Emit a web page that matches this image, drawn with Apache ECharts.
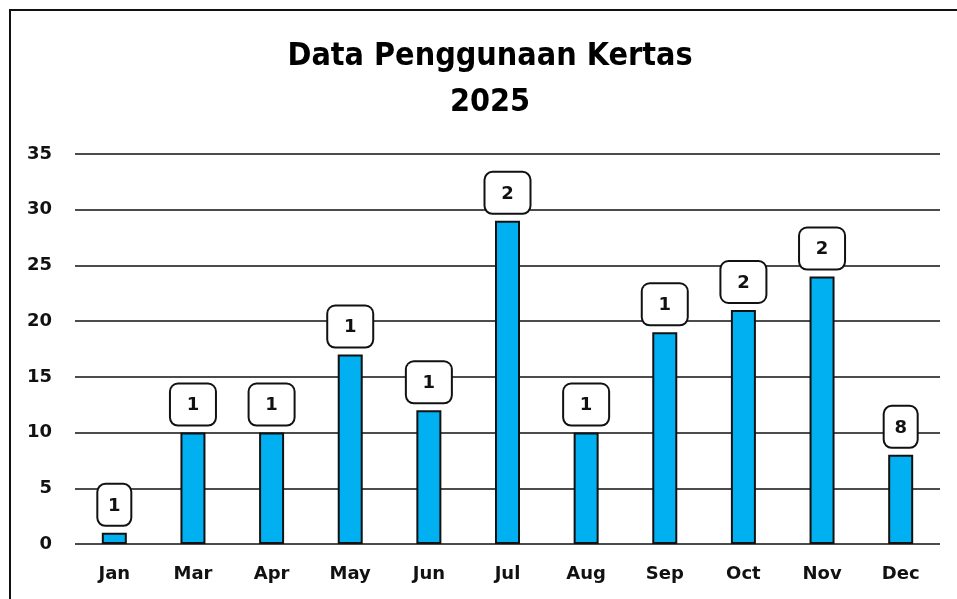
<!DOCTYPE html>
<html>
<head>
<meta charset="utf-8">
<script src="https://cdn.jsdelivr.net/npm/echarts@6/dist/echarts.min.js"></script>
<style>
  html, body { margin: 0; padding: 0; background: #fff; }
  #chart { width: 957px; height: 599px; }
</style>
</head>
<body>
<div id="chart"></div>
<script>
// Monthly paper usage, 2025
const months = ['Jan', 'Mar', 'Apr', 'May', 'Jun', 'Jul', 'Aug', 'Sep', 'Oct', 'Nov', 'Dec'];
const usage = [1, 10, 10, 17, 12, 29, 10, 19, 21, 24, 8];
const yTicks = [0, 5, 10, 15, 20, 25, 30, 35];

const FONT = '"DejaVu Sans", "Liberation Sans", Arial, sans-serif';
const TITLE_FONT = '"DejaVu Sans Condensed", "DejaVu Sans", sans-serif';

// Value callouts: narrow boxes that clip the value text to the box width
const barData = usage.map(v => {
  const pad = String(v).length > 1 ? 15 : 9;
  return { value: v, label: { padding: [11, pad, 9, pad] } };
});

const chart = echarts.init(document.getElementById('chart'), null, { renderer: 'canvas' });
chart.setOption({
  animation: false,
  backgroundColor: '#fff',
  graphic: [{
    type: 'rect',
    shape: { x: 10, y: 10, width: 980, height: 620 },
    style: { fill: 'none', stroke: '#111', lineWidth: 2 },
    silent: true
  }],
  title: {
    text: 'Data Penggunaan Kertas\n2025',
    left: 485,
    textAlign: 'center',
    top: 29,
    textStyle: {
      fontFamily: TITLE_FONT,
      fontWeight: 'bold',
      fontSize: 32,
      lineHeight: 46,
      color: '#000'
    }
  },
  grid: { left: 75, right: 17, top: 154, bottom: 55, containLabel: false },
  xAxis: {
    type: 'category',
    data: months,
    axisLine: { show: false },
    axisTick: { show: false },
    axisLabel: {
      margin: 21,
      color: '#111',
      fontFamily: FONT,
      fontWeight: 'bold',
      fontSize: 18
    }
  },
  yAxis: {
    type: 'value',
    min: yTicks[0],
    max: yTicks[yTicks.length - 1],
    interval: 5,
    axisLine: { show: false },
    axisTick: { show: false },
    axisLabel: {
      margin: 23,
      color: '#111',
      fontFamily: FONT,
      fontWeight: 'bold',
      fontSize: 18
    },
    splitLine: { lineStyle: { color: '#111', width: 1.5 } }
  },
  series: [{
    type: 'bar',
    data: barData,
    barWidth: 25,
    itemStyle: { color: '#00B0F0', borderColor: '#111', borderWidth: 2 },
    label: {
      show: true,
      position: 'top',
      distance: 8,
      width: 14,
      lineHeight: 20,
      overflow: 'truncate',
      ellipsis: '',
      color: '#111',
      fontFamily: FONT,
      fontWeight: 'bold',
      fontSize: 18,
      backgroundColor: '#fff',
      borderColor: '#111',
      borderWidth: 2,
      borderRadius: 7
    }
  }]
});
</script>
</body>
</html>
